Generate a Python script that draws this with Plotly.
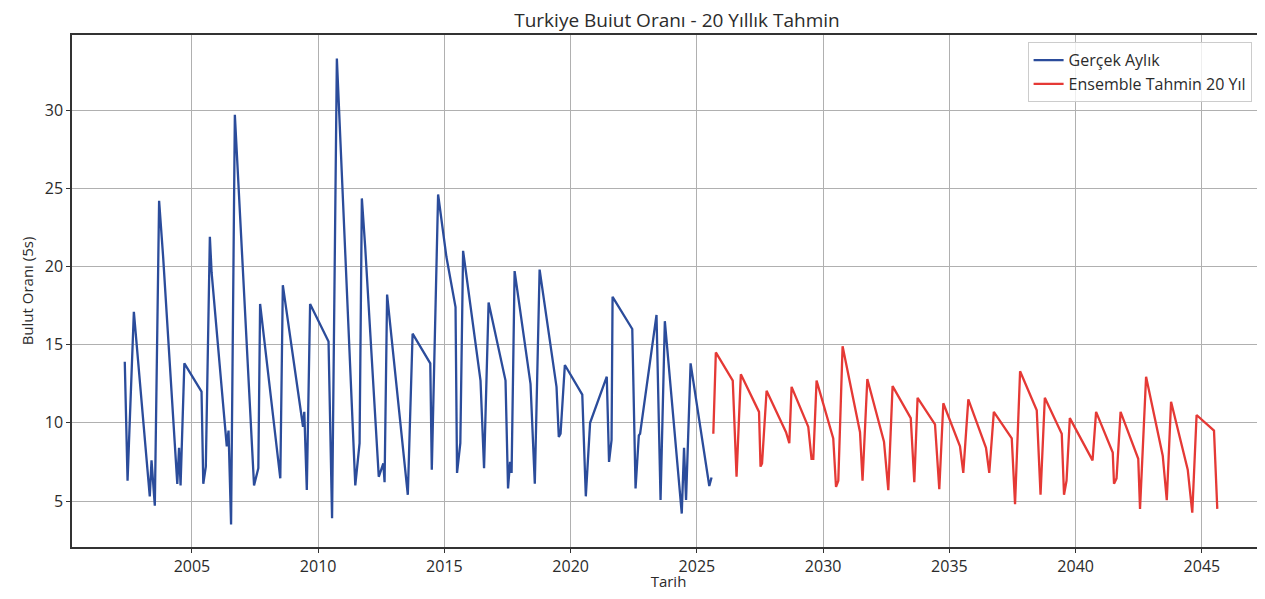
import plotly.graph_objects as go

# Observed monthly series (decimal year, value)
actual_x = [2002.34, 2002.45, 2002.70, 2003.33, 2003.40, 2003.53, 2003.70, 2003.86,
            2004.42, 2004.49, 2004.55, 2004.70, 2005.38, 2005.45, 2005.55, 2005.71, 2005.78,
            2006.38, 2006.45, 2006.55, 2006.70, 2007.46, 2007.63, 2007.70,
            2008.50, 2008.60, 2009.40, 2009.45, 2009.55, 2009.68,
            2010.41, 2010.55, 2010.74, 2010.88, 2011.47, 2011.64, 2011.73, 2011.86,
            2012.40, 2012.58, 2012.63, 2012.73, 2013.55, 2013.74,
            2014.44, 2014.50, 2014.75, 2015.08, 2015.44, 2015.50, 2015.63, 2015.74,
            2016.43, 2016.57, 2016.75, 2017.42, 2017.52, 2017.60, 2017.66, 2017.78,
            2018.41, 2018.58, 2018.77, 2019.44, 2019.53, 2019.60, 2019.77,
            2020.46, 2020.60, 2020.77, 2021.43, 2021.52, 2021.62, 2021.66,
            2022.44, 2022.57, 2022.70, 2022.75, 2023.40, 2023.56, 2023.73,
            2024.40, 2024.49, 2024.57, 2024.75, 2025.49, 2025.58]
actual_y = [13.9, 6.3, 17.1, 5.3, 7.6, 4.7, 24.2, 20.6,
            6.1, 8.4, 6.0, 13.8, 12.0, 6.1, 7.2, 21.9, 19.6,
            8.5, 9.5, 3.5, 29.7, 6.0, 7.1, 17.6,
            6.45, 18.8, 9.75, 10.7, 5.7, 17.6,
            15.2, 3.9, 33.3, 28.0, 6.0, 8.7, 24.35, 21.3,
            6.55, 7.4, 6.2, 18.2, 5.4, 15.7,
            13.8, 7.0, 24.6, 20.6, 17.4, 6.8, 8.7, 21.0,
            12.7, 7.1, 17.7, 12.7, 5.8, 7.5, 6.8, 19.7,
            12.5, 6.1, 19.8, 12.3, 9.1, 9.3, 13.7,
            11.8, 5.3, 10.0, 12.95, 7.5, 8.9, 18.06,
            16.0, 5.8, 9.2, 9.3, 16.9, 5.06, 16.5,
            4.2, 8.4, 5.06, 13.8, 5.96, 6.5]

# Ensemble 20-year forecast
forecast_x = [2025.65, 2025.75, 2026.42, 2026.57, 2026.74, 2027.46, 2027.52, 2027.58, 2027.76,
              2028.53, 2028.66, 2028.75, 2029.41, 2029.54, 2029.61, 2029.74,
              2030.40, 2030.51, 2030.60, 2030.77, 2031.46, 2031.56, 2031.75,
              2032.41, 2032.58, 2032.75, 2033.47, 2033.61, 2033.74,
              2034.43, 2034.60, 2034.76, 2035.42, 2035.55, 2035.75,
              2036.45, 2036.58, 2036.76, 2037.47, 2037.60, 2037.80,
              2038.46, 2038.61, 2038.78, 2039.45, 2039.54, 2039.64, 2039.77,
              2040.67, 2040.81, 2041.47, 2041.52, 2041.62, 2041.78,
              2042.48, 2042.55, 2042.79, 2043.45, 2043.61, 2043.78,
              2044.44, 2044.62, 2044.79, 2045.48, 2045.61]
forecast_y = [9.3, 14.5, 12.7, 6.55, 13.1, 10.7, 7.2, 7.4, 12.05,
              9.4, 8.7, 12.3, 9.75, 7.7, 7.7, 12.7,
              9.0, 5.9, 6.3, 14.9, 9.4, 6.3, 12.8,
              8.8, 5.7, 12.35, 10.3, 6.2, 11.6,
              9.9, 5.75, 11.25, 8.5, 6.8, 11.5,
              8.4, 6.8, 10.7, 9.0, 4.8, 13.3,
              10.8, 5.4, 11.6, 9.3, 5.4, 6.3, 10.3,
              7.6, 10.7, 8.1, 6.1, 6.45, 10.7,
              7.7, 4.5, 12.95, 7.9, 5.06, 11.35,
              7.0, 4.25, 10.5, 9.5, 4.5]

x_ticks = [2005, 2010, 2015, 2020, 2025, 2030, 2035, 2040, 2045]
y_ticks = [5, 10, 15, 20, 25, 30]

FONT = "Open Sans"
TXT = "#2b2b2b"

# the page adds an 8px body margin, so the figure is drawn 8px in from the top-left
W, H = 1257, 583

fig = go.Figure()
fig.add_trace(go.Scatter(x=actual_x, y=actual_y, mode="lines", name="Gerçek Aylık",
                         line=dict(color="#2b4c9b", width=2.3)))
fig.add_trace(go.Scatter(x=forecast_x, y=forecast_y, mode="lines", name="Ensemble Tahmin 20 Yıl",
                         line=dict(color="#e53935", width=2.3)))

fig.update_layout(
    width=W, height=H,
    margin=dict(l=64, r=0, t=27, b=44, autoexpand=False),
    paper_bgcolor="white", plot_bgcolor="white",
    font=dict(family=FONT, size=15, color=TXT),
    title=dict(text="Turkiye Buiut Oranı - 20 Yıllık Tahmin", x=669 / W, xanchor="center",
               y=1 - 12 / H, yanchor="middle", yref="container",
               font=dict(size=19, color=TXT)),
    showlegend=True,
    legend=dict(x=0.801, xanchor="left", y=0.986, yanchor="top",
                bgcolor="rgba(255,255,255,0.8)", bordercolor="#cccccc", borderwidth=1,
                font=dict(size=16, color=TXT)),
    xaxis=dict(range=[2000.25, 2047.5], tickvals=x_ticks, ticktext=[str(v) for v in x_ticks],
               automargin=False, tickfont=dict(size=16),
               showgrid=True, gridcolor="#b0b0b0", gridwidth=1.2, zeroline=False,
               ticks="outside", ticklen=4, tickcolor="#333", tickwidth=1.2,
               showline=True, linecolor="#333", linewidth=1.5, mirror=True,
               title=dict(text="Tarih", standoff=6, font=dict(size=15, color=TXT))),
    yaxis=dict(range=[2.06, 34.8], tickvals=y_ticks, ticktext=[str(v) for v in y_ticks],
               automargin=False, tickfont=dict(size=16),
               showgrid=True, gridcolor="#b0b0b0", gridwidth=1.2, zeroline=False,
               ticks="outside", ticklen=4, tickcolor="#333", tickwidth=1.2,
               showline=True, linecolor="#333", linewidth=1.5,
               title=dict(text="Bulut Oranı (5s)", standoff=8, font=dict(size=15, color=TXT))),
)

fig.write_html("out.html")
